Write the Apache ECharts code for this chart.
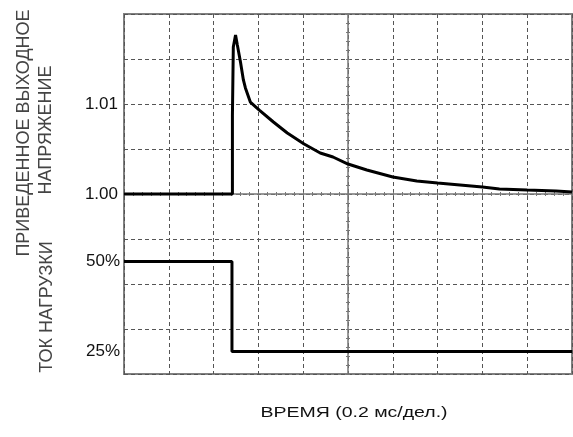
<!DOCTYPE html>
<html>
<head>
<meta charset="utf-8">
<script src="https://cdn.jsdelivr.net/npm/echarts@6/dist/echarts.min.js"></script>
<style>
    html, body { margin: 0; padding: 0; background: #fff; }
    #chart { width: 573px; height: 437px; }
</style>
</head>
<body>
<div id="chart"></div>
<script>
    // время, мс (0.2 мс/дел.)
    var timeMs = [0, 0.484, 0.484, 0.488, 0.498, 0.506, 0.52, 0.533, 0.542, 0.564, 0.604, 0.667, 0.729,
        0.804, 0.876, 0.933, 1.0, 1.084, 1.2, 1.307, 1.4, 1.5, 1.6, 1.676, 1.8, 1.929, 2.0];
    // приведенное выходное напряжение
    var voltage = [1.0, 1.0, 1.00867, 1.01633, 1.01767, 1.01656, 1.01467, 1.01267, 1.01178, 1.01022, 1.00933,
        1.008, 1.00678, 1.00556, 1.00456, 1.00411, 1.00333, 1.00267, 1.00189, 1.00144, 1.00122, 1.001,
        1.00078, 1.00056, 1.00044, 1.00033, 1.00022];
    // ток нагрузки, %
    var loadTime = [0, 0.482, 0.482, 2.0];
    var loadCurrent = [50, 50, 25, 25];

    var voltTicks = [1.00, 1.01];
    var voltLabels = ['1.00', '1.01'];
    var currentTicks = [25, 50];
    var currentLabels = ['25%', '50%'];

    var voltData = timeMs.map(function (t, i) { return [t, voltage[i]]; });
    var loadData = loadTime.map(function (t, i) { return [t, loadCurrent[i]]; });

    function pickLabel(ticks, labels, v) {
        for (var i = 0; i < ticks.length; i++) {
            if (Math.abs(ticks[i] - v) < 1e-6) return labels[i];
        }
        return '';
    }

    var gridColor = '#555';
    var crossColor = '#777';

    // центральные оси осциллографа с мелкими делениями
    function crossX(inside) {
        return {
            type: 'value', min: 0, max: 50, interval: 1, position: 'bottom', offset: -180,
            axisLine: { show: !inside, lineStyle: { color: crossColor, width: 1.5 } },
            axisTick: { show: true, inside: inside, length: 2, lineStyle: { color: crossColor, width: 1 } },
            axisLabel: { show: false }, splitLine: { show: false }
        };
    }
    function crossY(inside) {
        return {
            type: 'value', min: 0, max: 40, interval: 1, position: 'left', offset: -224,
            axisLine: { show: !inside, lineStyle: { color: crossColor, width: 1.5 } },
            axisTick: { show: true, inside: inside, length: 2, lineStyle: { color: crossColor, width: 1 } },
            axisLabel: { show: false }, splitLine: { show: false }
        };
    }

    var chart = echarts.init(document.getElementById('chart'));
    var option = {
        animation: false,
        grid: {
            left: 124, right: 1, top: 14, bottom: 63,
            show: true, borderColor: '#808080', borderWidth: 2, backgroundColor: '#fff'
        },
        xAxis: [
            {
                type: 'value', min: 0, max: 2.0, interval: 0.2,
                axisLine: { show: false }, axisTick: { show: false }, axisLabel: { show: false },
                splitLine: { show: true, lineStyle: { color: gridColor, width: 1, type: [4, 3] } }
            },
            crossX(false),
            crossX(true)
        ],
        yAxis: [
            {
                type: 'value', min: 0.98, max: 1.02, interval: 0.005, position: 'left',
                axisLine: { show: false }, axisTick: { show: false },
                axisLabel: {
                    color: '#111', fontSize: 17, fontFamily: 'Arial', margin: 6,
                    formatter: function (v) { return pickLabel(voltTicks, voltLabels, v); }
                },
                splitLine: { show: true, lineStyle: { color: gridColor, width: 1, type: [4, 3] } }
            },
            {
                type: 'value', min: 18.75, max: 118.75, interval: 6.25, position: 'left',
                axisLine: { show: false }, axisTick: { show: false },
                axisLabel: {
                    color: '#111', fontSize: 17, fontFamily: 'Arial', margin: 4,
                    formatter: function (v) { return pickLabel(currentTicks, currentLabels, v); }
                },
                splitLine: { show: false }
            },
            crossY(false),
            crossY(true)
        ],
        graphic: [
            {
                type: 'text', x: 24, y: 133, rotation: Math.PI / 2,
                style: { text: 'ПРИВЕДЕННОЕ ВЫХОДНОЕ', fontSize: 18, fontFamily: 'Arial', fill: '#444',
                    textAlign: 'center', textVerticalAlign: 'middle' }
            },
            {
                type: 'text', x: 46, y: 130, rotation: Math.PI / 2,
                style: { text: 'НАПРЯЖЕНИЕ', fontSize: 18, fontFamily: 'Arial', fill: '#444',
                    textAlign: 'center', textVerticalAlign: 'middle' }
            },
            {
                type: 'text', x: 47, y: 307, rotation: Math.PI / 2,
                style: { text: 'ТОК НАГРУЗКИ', fontSize: 18, fontFamily: 'Arial', fill: '#444',
                    textAlign: 'center', textVerticalAlign: 'middle' }
            },
            {
                type: 'text', x: 354, y: 413, scaleX: 1.3,
                style: { text: 'ВРЕМЯ (0.2 мс/дел.)', fontSize: 15, fontFamily: 'Arial', fill: '#111',
                    textAlign: 'center', textVerticalAlign: 'middle' }
            }
        ],
        series: [
            {
                name: 'Напряжение', type: 'line', xAxisIndex: 0, yAxisIndex: 0,
                data: voltData, showSymbol: false, smooth: false, z: 5,
                lineStyle: { color: '#000', width: 3 }
            },
            {
                name: 'Ток нагрузки', type: 'line', xAxisIndex: 0, yAxisIndex: 1,
                data: loadData, showSymbol: false, z: 5,
                lineStyle: { color: '#000', width: 3 }
            }
        ]
    };
    chart.setOption(option);
</script>
</body>
</html>
